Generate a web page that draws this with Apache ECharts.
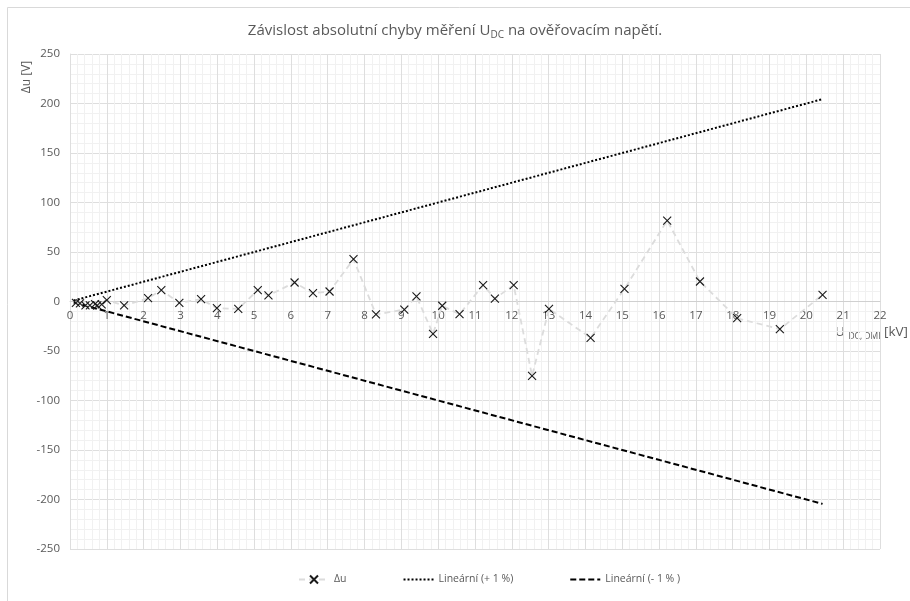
<!DOCTYPE html>
<html>
<head>
<meta charset="utf-8">
<script src="https://cdn.jsdelivr.net/npm/echarts@6/dist/echarts.min.js"></script>
<style>
  html, body { margin: 0; padding: 0; background: #fff; }
  #chart { width: 910px; height: 601px; }
</style>
</head>
<body>
<div id="chart"></div>
<script>
/* ---------- data ---------- */
const uDmi = [0.16, 0.27, 0.42, 0.54, 0.68, 0.74, 0.86, 1.0, 1.47, 2.12, 2.48, 2.97, 3.56, 3.99, 4.57,
  5.10, 5.39, 6.10, 6.60, 7.05, 7.70, 8.31, 9.08, 9.41, 9.86, 10.11, 10.58, 11.22, 11.54, 12.05,
  12.55, 13.01, 14.14, 15.06, 16.22, 17.11, 18.12, 19.28, 20.44];
const deltaU = [-1.3, -2.0, -4.0, -4.0, -2.7, -4.0, -3.0, 1.3, -4.0, 3.3, 11.4, -1.3, 2.3, -6.8, -7.4,
  11.4, 6.1, 19.2, 8.4, 10.1, 42.7, -13.1, -8.1, 5.1, -32.6, -4.3, -12.8, 16.5, 3.0, 16.5,
  -75.1, -7.4, -36.7, 12.8, 81.8, 20.2, -16.9, -28.0, 6.8];
const trendX = [0.1, 20.44];
const plusOne = [1.0, 204.4];
const minusOne = [-1.0, -204.4];
const seriesNames = ['Δu', 'Lineární (+ 1 %)', 'Lineární (- 1 % )'];

const pairs = (xs, ys) => xs.map((x, i) => [x, ys[i]]);

const font = 'Open Sans';
const grey = '#595959';
// zero-area path so the trend lines get no marker (also in the legend)
const noMark = 'path://M0,0L10,10';

const chart = echarts.init(document.getElementById('chart'));

chart.setOption({
  animation: false,
  backgroundColor: '#fff',
  textStyle: { fontFamily: font },
  title: {
    text: 'Závislost absolutní chyby měření U{sub|DC} na ověřovacím napětí.',
    left: 'center',
    top: 17,
    textStyle: {
      fontFamily: font,
      fontSize: 15,
      fontWeight: 'normal',
      color: grey,
      rich: {
        sub: { fontFamily: font, fontSize: 10, color: grey, padding: [8, 0, 0, 0] },
      },
    },
  },
  grid: { left: 70, right: 30, top: 54, bottom: 52 },
  legend: {
    left: 293,
    top: 569,
    itemWidth: 30,
    itemHeight: 10,
    itemGap: 56,
    data: seriesNames,
    textStyle: { fontFamily: font, fontSize: 10.5, color: grey },
  },
  xAxis: {
    type: 'value',
    min: 0,
    max: 22,
    interval: 1,
    position: 'bottom',
    offset: -247.5,
    axisLine: { onZero: false, lineStyle: { color: '#d0d0d0' } },
    axisTick: { show: false },
    axisLabel: { color: grey, fontSize: 11.5, fontFamily: font, margin: 8 },
    splitLine: { lineStyle: { color: '#dedede' } },
    minorTick: { show: false, splitNumber: 5 },
    minorSplitLine: { show: true, lineStyle: { color: '#f1f1f1' } },
  },
  yAxis: {
    type: 'value',
    min: -250,
    max: 250,
    interval: 50,
    axisLine: { show: true, onZero: false, lineStyle: { color: '#dedede' } },
    axisTick: { show: false },
    axisLabel: { color: grey, fontSize: 11.5, fontFamily: font, margin: 10 },
    splitLine: { lineStyle: { color: '#dedede' } },
    minorTick: { show: false, splitNumber: 5 },
    minorSplitLine: { show: true, lineStyle: { color: '#f1f1f1' } },
  },
  graphic: [
    {
      type: 'rect',
      silent: true,
      z: -1,
      shape: { x: 7.5, y: 7.5, width: 920, height: 620 },
      style: { fill: 'none', stroke: '#d9d9d9', lineWidth: 1 },
    },
    {
      type: 'text',
      x: 27,
      y: 77,
      rotation: Math.PI / 2,
      style: {
        text: 'Δu [V]',
        fontFamily: font,
        fontSize: 12,
        fill: grey,
        align: 'center',
        verticalAlign: 'middle',
      },
    },
    {
      type: 'text',
      x: 908,
      y: 332,
      style: {
        text: '{u|U }{s|DC, DMI}{u| [kV]}',
        align: 'right',
        verticalAlign: 'middle',
        rich: {
          u: { fontFamily: font, fontSize: 13.5, fill: grey },
          s: { fontFamily: font, fontSize: 8.5, fill: grey, padding: [9, 0, 0, 0] },
        },
      },
    },
  ],
  series: [
    {
      name: seriesNames[0],
      type: 'line',
      data: pairs(uDmi, deltaU),
      symbol: 'path://M0,0L10,10M10,0L0,10',
      symbolSize: 8,
      itemStyle: { color: '#000', borderColor: '#1a1a1a', borderWidth: 1.1 },
      lineStyle: { color: '#dcdcdc', width: 1.8, type: [6, 4] },
      z: 3,
    },
    {
      name: seriesNames[1],
      type: 'line',
      data: pairs(trendX, plusOne),
      showSymbol: false,
      symbol: noMark,
      itemStyle: { color: 'transparent', borderWidth: 0 },
      lineStyle: { color: '#000', width: 2, type: [2, 2] },
      z: 2,
    },
    {
      name: seriesNames[2],
      type: 'line',
      data: pairs(trendX, minusOne),
      showSymbol: false,
      symbol: noMark,
      itemStyle: { color: 'transparent', borderWidth: 0 },
      lineStyle: { color: '#000', width: 2, type: [6, 3] },
      z: 2,
    },
  ],
});
</script>
</body>
</html>
